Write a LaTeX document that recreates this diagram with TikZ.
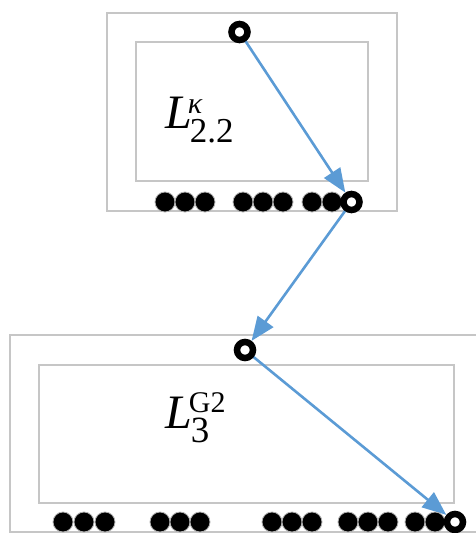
\documentclass[tikz,border=0pt]{standalone}
\usepackage{fontspec}
\setmainfont{Liberation Serif}
\usetikzlibrary{arrows.meta,backgrounds}
\definecolor{boxgray}{HTML}{C6C6C6}
\definecolor{arrblue}{HTML}{5B9BD5}
\tikzset{
 frame/.style={draw=boxgray, line width=1.6pt},
 dot/.style={circle, fill=black, draw=gray!60, line width=0.8pt, minimum size=20pt, inner sep=0pt},
 port/.style={circle, fill=white, draw=black, line width=6.5pt, minimum size=16pt, inner sep=0pt},
 link/.style={draw=arrblue, line width=2.6pt, -{Triangle[length=24pt,width=19pt]}},
 lbl/.style={anchor=base west, inner sep=0pt, font=\fontsize{48}{48}\selectfont}
}
\begin{document}
\begin{tikzpicture}[x=1pt,y=-1pt]
\useasboundingbox (0,0) rectangle (476,533);
\foreach \x [count=\i] in {165,185,205,243,263,283,312,332} \node[dot] (a\i) at (\x,202) {};
\foreach \x [count=\i] in {63,84,105,160,180,200,272,292,312,348,368,388,415,435} \node[dot] (b\i) at (\x,522) {};
\node[port] (p1) at (239.5,32) {};
\node[port] (p2) at (351.5,202) {};
\node[port] (p3) at (245,350) {};
\node[port] (p4) at (455,522) {};
\node[lbl] (t1) at (165,128) {{\itshape L}\rlap{\kern-4pt\raisebox{15pt}{\fontsize{30}{30}\selectfont\itshape κ}}\kern-2pt\raisebox{-14pt}{\fontsize{35}{35}\selectfont 2.2}};
\node[lbl] (t2) at (165,428) {{\itshape L}\rlap{\kern-3pt\raisebox{16pt}{\fontsize{30}{30}\selectfont G2}}\kern-1pt\raisebox{-14pt}{\fontsize{37}{37}\selectfont 3}};
\begin{scope}[on background layer]
\draw[frame] (107,13) rectangle (397,211);
\draw[frame] (136,42) rectangle (368,181);
\draw[frame] (10,335) rectangle (483,532);
\draw[frame] (39,365) rectangle (454,503);
\draw[link] (p1.center) -- (p2);
\draw[link] (p2.center) -- (p3);
\draw[link] (p3.center) -- (p4);
\end{scope}
\end{tikzpicture}
\end{document}
